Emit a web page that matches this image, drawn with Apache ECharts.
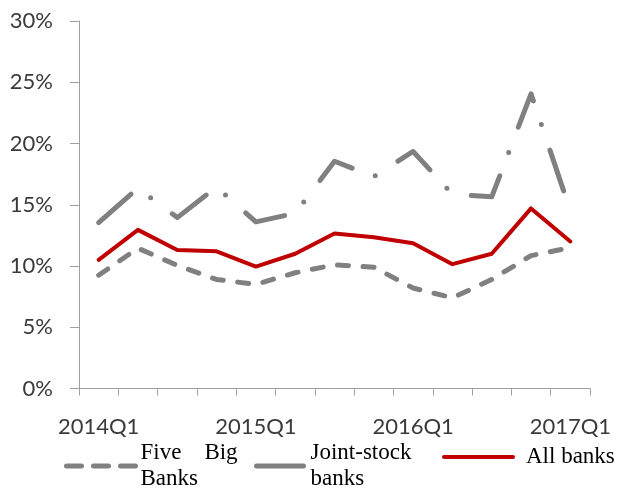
<!DOCTYPE html>
<html>
<head>
<meta charset="utf-8">
<script src="https://cdn.jsdelivr.net/npm/echarts@6/dist/echarts.min.js"></script>
<style>
  html, body { margin: 0; padding: 0; background: #fff; }
  #chart { width: 619px; height: 490px; }
</style>
</head>
<body>
<div id="chart"></div>
<script>
// Quarterly categories, 2014Q1 .. 2017Q1
const quarters = [
  '2014Q1', '2014Q2', '2014Q3', '2014Q4',
  '2015Q1', '2015Q2', '2015Q3', '2015Q4',
  '2016Q1', '2016Q2', '2016Q3', '2016Q4',
  '2017Q1'
];

// Growth rates, in percent
const fiveBigBanks = [9.25, 11.45, 10.05, 8.9, 8.5, 9.45, 10.1, 9.9, 8.2, 7.4, 8.9, 10.85, 11.5];
const jointStockBanks = [13.55, 16.35, 13.95, 16.45, 13.6, 14.3, 18.55, 17.3, 19.35, 15.85, 15.65, 24.05, 14.5];
const allBanks = [10.5, 12.95, 11.3, 11.2, 9.95, 11.0, 12.65, 12.35, 11.85, 10.15, 11.0, 14.7, 12.0];

// Y axis range and step (percent)
const yMin = 0, yMax = 30, yStep = 5;

const seriesNames = ['Five    Big\nBanks', 'Joint-stock\nbanks', 'All banks'];

const GREY = '#808080';
const RED = '#C00000';
const axisColor = '#a0a0a0';
const labelColor = '#3a3a3a';
const legendFont = { fontFamily: '"Liberation Serif", "Times New Roman", serif', fontSize: 23, color: '#000', lineHeight: 26 };
// legend keys show only the line, no marker symbol
const hiddenMarker = { opacity: 0, borderWidth: 0 };

const chart = echarts.init(document.getElementById('chart'), null, { renderer: 'canvas' });

chart.setOption({
  animation: false,
  backgroundColor: '#fff',
  grid: { left: 79, right: 29, top: 21, bottom: 101.5, containLabel: false },
  xAxis: {
    type: 'category',
    data: quarters,
    boundaryGap: true,
    axisLine: { lineStyle: { color: axisColor, width: 1 } },
    axisTick: { show: true, interval: 0, length: 7, lineStyle: { color: axisColor } },
    axisLabel: {
      interval: 3,
      margin: 27,
      fontFamily: 'Lato',
      fontSize: 22,
      color: labelColor
    },
    splitLine: { show: false }
  },
  yAxis: {
    type: 'value',
    min: yMin,
    max: yMax,
    interval: yStep,
    axisLine: { show: true, lineStyle: { color: axisColor, width: 1 } },
    axisTick: { show: true, length: 9, lineStyle: { color: axisColor } },
    axisLabel: {
      formatter: '{value}%',
      margin: 26,
      fontFamily: 'Lato',
      fontSize: 22,
      color: labelColor
    },
    splitLine: { show: false }
  },
  legend: [
    {
      data: [seriesNames[0]],
      left: 64, top: 434,
      padding: 0,
      itemWidth: 69, itemHeight: 14,
      itemStyle: hiddenMarker,
      lineStyle: { width: 5, type: [15, 12], cap: 'round' },
      textStyle: Object.assign({ padding: [12, 0, 0, 0] }, legendFont),
      selectedMode: false
    },
    {
      data: [seriesNames[1]],
      left: 254, top: 434,
      padding: 0,
      itemWidth: 47, itemHeight: 14,
      itemStyle: hiddenMarker,
      lineStyle: { width: 5, type: 'solid', cap: 'round' },
      textStyle: Object.assign({ padding: [12, 0, 0, 2] }, legendFont),
      selectedMode: false
    },
    {
      data: [seriesNames[2]],
      left: 442, top: 443,
      padding: 0,
      itemWidth: 69, itemHeight: 14,
      itemStyle: hiddenMarker,
      lineStyle: { width: 4, type: 'solid', cap: 'round' },
      textStyle: Object.assign({ padding: [2, 0, 0, 8] }, legendFont),
      selectedMode: false
    }
  ],
  series: [
    {
      name: seriesNames[0],
      type: 'line',
      data: fiveBigBanks,
      symbol: 'none',
      smooth: false,
      lineStyle: { color: GREY, width: 5, type: [11, 14.6], cap: 'round', join: 'round' },
      itemStyle: { color: GREY },
      z: 2
    },
    {
      name: seriesNames[1],
      type: 'line',
      data: jointStockBanks,
      symbol: 'none',
      smooth: false,
      lineStyle: { color: GREY, width: 5, type: [43, 25, 0, 27], cap: 'round', join: 'round' },
      itemStyle: { color: GREY },
      z: 2
    },
    {
      name: seriesNames[2],
      type: 'line',
      data: allBanks,
      symbol: 'none',
      smooth: false,
      lineStyle: { color: RED, width: 4, type: 'solid', cap: 'round', join: 'round' },
      itemStyle: { color: RED },
      z: 3
    }
  ]
});
</script>
</body>
</html>
